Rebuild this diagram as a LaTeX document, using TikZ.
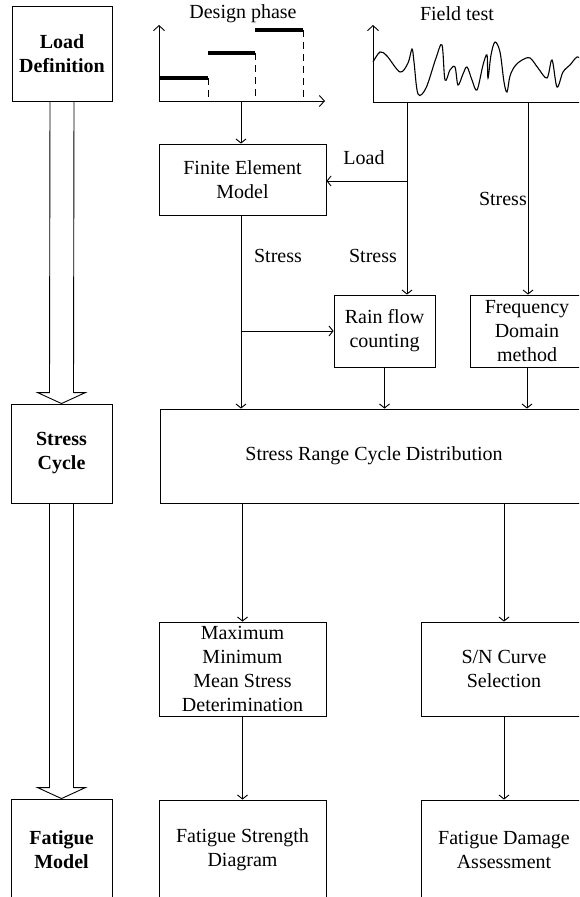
\documentclass[tikz,border=0pt]{standalone}
\usepackage{fontspec}
\setmainfont{Liberation Serif}
\usetikzlibrary{arrows.meta,calc,positioning}

% hollow arrow between two stage boxes
\newcommand{\fatarrow}[2]{%
  \draw[line width=0.9pt] ($(#1.south)+(-12,0)$) -- ($(#2.north)+(-12,-11)$)
    -- ($(#2.north)+(-24,-11)$) -- (#2.north) -- ($(#2.north)+(24,-11)$)
    -- ($(#2.north)+(12,-11)$) -- ($(#1.south)+(12,0)$);}

\begin{document}
\begin{tikzpicture}[x=1pt,y=-1pt,
  box/.style={draw,line width=0.9pt,inner sep=0pt,align=center,
    font=\fontsize{20}{24}\selectfont},
  stage/.style={box,font=\fontsize{20}{24}\selectfont\bfseries},
  lbl/.style={font=\fontsize{20}{24}\selectfont},
  flow/.style={line width=0.9pt,-{Straight Barb[length=4pt,width=10pt]}},
  chartaxis/.style={line width=0.9pt,-{Straight Barb[length=5pt,width=11pt]}},
  steplevel/.style={line width=3.5pt},
  dropline/.style={line width=0.9pt,dash pattern=on 7pt off 5pt}]
  \path[fill=white,use as bounding box] (0,0) rectangle (579,897);
  \clip (0,0) rectangle (579,897);

  % left column
  \node[stage,minimum width=100,minimum height=95] (LD) at (62,53.5) {Load\\Definition};
  \node[stage,minimum width=101,minimum height=99] (SC) at (61.5,453.5) {Stress\\Cycle};
  \node[stage,minimum width=101,minimum height=101] (FM) at (61.5,849.5) {Fatigue\\Model};
  \fatarrow{LD}{SC}
  \fatarrow{SC}{FM}

  % design phase chart
  \coordinate (DO) at (159,101);
  \coordinate (DP) at (241,101);
  \draw[chartaxis] (DO) -- (159,25);
  \draw[chartaxis] (DO) -- (325,101);
  \draw[steplevel] (159,78) -- (208,78);
  \draw[steplevel] (208,53) -- (255,53);
  \draw[steplevel] (255,30) -- (303,30);
  \draw[dropline] (208,78) -- (208,101);
  \draw[dropline] (255,53) -- (255,101);
  \draw[dropline] (303,30) -- (303,101);
  \node[lbl] (DPT) at (243,14) {Design phase};

  % field test chart
  \coordinate (FO) at (373,102);
  \coordinate (FT1) at (407,102);
  \coordinate (FT2) at (528,102);
  \draw[chartaxis] (FO) -- (373,25);
  \draw[line width=0.9pt] (FO) -- (600,102);
  \draw[line width=1.1pt] plot[smooth,tension=0.55] coordinates {
    (373,62) (380,52) (387,56) (400,72) (408,63) (412,49) (414,62)
    (418,94) (426,88) (436,58) (442,45) (445,80) (450,70) (455,67)
    (458,85) (463,74) (467,67) (472,80) (477,90) (483,65) (487,55)
    (488,78) (491,55) (495,42) (500,52) (504,82) (507,92) (510,76)
    (515,66) (522,60) (530,58) (538,68) (547,78) (552,60) (557,87)
    (563,72) (570,65) (577,57) (582,60)};
  \node[lbl] (FTT) at (457,14) {Field test};

  % middle boxes
  \node[box,minimum width=167,minimum height=71] (FEM) at (242.5,179.5) {Finite Element\\Model};
  \node[box,minimum width=101,minimum height=72] (RF) at (384.5,331) {Rain flow\\counting};
  \node[box,minimum width=114,minimum height=72] (FD) at (527,331) {Frequency\\Domain\\method};
  \node[box,minimum width=428,minimum height=94] (SR) at (374,456) {Stress Range Cycle Distribution};
  \node[box,minimum width=167,minimum height=94] (MM) at (242.5,669) {Maximum\\Minimum\\Mean Stress\\Deterimination};
  \node[box,minimum width=166,minimum height=94] (SN) at (504,669) {S/N Curve\\Selection};
  \node[box,minimum width=167,minimum height=100] (FS) at (242.5,850) {Fatigue Strength\\Diagram};
  \node[box,minimum width=166,minimum height=100] (FA) at (504,850) {Fatigue Damage\\Assessment};

  % connectors
  \coordinate (LB) at (407,181);
  \coordinate (SB) at (241,331);
  \draw[flow] (DP) -- (FEM.north -| DP);
  \draw[flow] (FT1) -- (RF.north -| FT1);
  \draw[flow] (LB) -- (FEM.east |- LB);
  \draw[flow] (FT2) -- (FD.north -| FT2);
  \draw[flow] (FEM.south -| DP) -- (SR.north -| DP);
  \draw[flow] (SB) -- (RF.west |- SB);
  \draw[flow] (RF.south) -- (RF.south |- SR.north);
  \draw[flow] (FD.south) -- (FD.south |- SR.north);
  \draw[flow] (SR.south -| MM) -- (MM.north);
  \draw[flow] (SR.south -| SN) -- (SN.north);
  \draw[flow] (MM.south) -- (FS.north);
  \draw[flow] (SN.south) -- (FA.north);

  % labels
  \node[lbl] (LL) at (364,158) {Load};
  \node[lbl] (S1) at (278,256) {Stress};
  \node[lbl] (S2) at (373,256) {Stress};
  \node[lbl,anchor=east,inner sep=0pt] (S3) at (527,199) {Stress};
\end{tikzpicture}
\end{document}
